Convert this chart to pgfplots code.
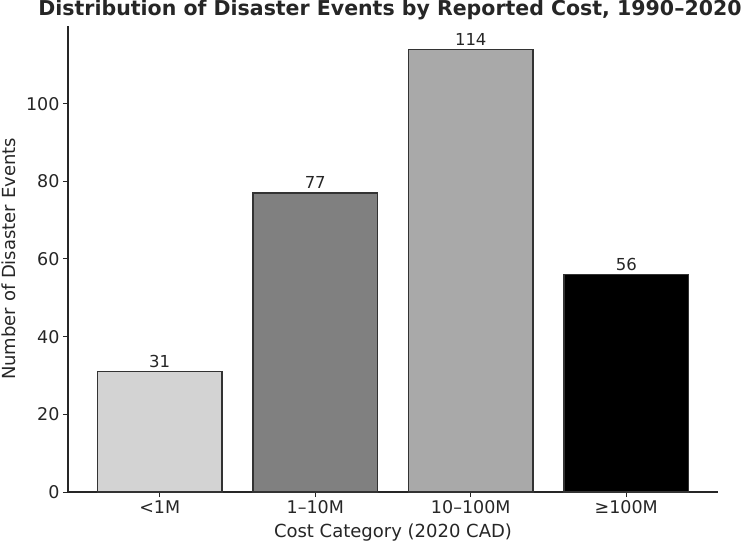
\documentclass[border=0pt]{standalone}
\usepackage{pgfplots}
\pgfplotsset{compat=1.18}
\usepackage{fontspec}
\setmainfont{DejaVu Sans}
\definecolor{txt}{HTML}{262626}
\definecolor{edge}{HTML}{333333}
\begin{document}
\begin{tikzpicture}
\useasboundingbox (-68pt,-52pt) rectangle (682pt,492pt);
\begin{axis}[
  at={(0pt,0pt)}, anchor=south west,
  scale only axis, width=650pt, height=466pt,
  xmin=-0.59, xmax=3.59, ymin=0, ymax=120,
  axis x line*=bottom, axis y line*=left,
  axis line style={line width=1.1pt, color=txt},
  xtick={0,1,2,3}, xticklabels={<1M,1–10M,10–100M,≥100M},
  ytick={0,20,40,60,80,100},
  tick style={line width=1pt, color=txt},
  tick align=outside, major tick length=5pt,
  /pgf/number format/assume math mode=true,
  ticklabel style={font=\fontsize{17.5pt}{20pt}\selectfont, color=txt},
  xlabel={Cost Category (2020 CAD)},
  ylabel={Number of Disaster Events},
  label style={font=\fontsize{18pt}{21pt}\selectfont, color=txt},
  xlabel style={at={(axis description cs:0.5,0)}, anchor=base, yshift=-45pt},
  ylabel style={at={([xshift=-59pt]axis description cs:0,0.5)}, anchor=center},
  title={\bfseries Distribution of Disaster Events by Reported Cost, 1990–2020},
  title style={font=\fontsize{20.5pt}{24pt}\selectfont, color=txt, at={([xshift=-3pt]axis description cs:0.5,1)}, anchor=base, yshift=4pt},
  ybar, bar width=0.8, bar shift=0pt,
  nodes near coords,
  nodes near coords style={font=\fontsize{16.5pt}{19pt}\selectfont, color=txt, yshift=0pt},
  every axis plot/.append style={draw=edge, line width=1.3pt},
  clip=false,
]
\addplot[fill={rgb,255:red,211;green,211;blue,211}] coordinates {(0,31)};
\addplot[fill={rgb,255:red,128;green,128;blue,128}] coordinates {(1,77)};
\addplot[fill={rgb,255:red,169;green,169;blue,169}] coordinates {(2,114)};
\addplot[fill=black] coordinates {(3,56)};
\end{axis}
\end{tikzpicture}
\end{document}
